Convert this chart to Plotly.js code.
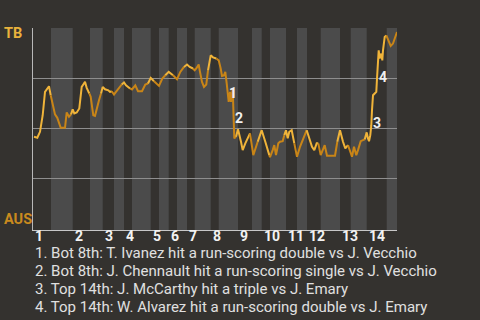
<!DOCTYPE html>
<html>
<head>
<meta charset="utf-8">
<script src="https://cdn.plot.ly/plotly-3.0.1.min.js"></script>
<style>html,body{margin:0;padding:0;background:#34322f;}#chart{width:480px;height:320px;}</style>
</head>
<body>
<div id="chart"></div>
<script>
// Half-inning starts (event progress units): top 1, bottom 1, top 2, ...
const halfStarts = [0, 18, 39.7, 57, 69.7, 81, 91, 99, 117.7, 126, 135.7, 144, 154, 161.7,
  177.7, 185.7, 205, 219, 228.7, 237, 253, 264, 274, 287.7, 307, 317.7, 333.7, 353.7];
const gameEnd = 364;
const inningLabels = ['1','2','3','4','5','6','7','8','9','10','11','12','13','14'];

// Game progress and TB win probability
const eventX = [1, 4.3, 7, 9.7, 12, 14, 16, 17.7, 20.3, 22, 24.3, 26.3, 27.7, 32, 33.7, 36, 38, 39.7,
  41.3, 43.7, 46.3, 47.7, 48.7, 50.3, 52, 53.7, 56.3, 57.7, 59.3, 60.3, 62, 63.7, 66, 68, 69.7,
  72, 75.3, 77, 78.7, 81, 83, 86.3, 88.7, 91, 93, 97, 99, 102.3, 105, 109, 112.3, 115, 117.7,
  121, 126, 129.3, 132.3, 135.7, 140, 144, 147.3, 151, 154, 156.7, 160, 161.7, 163.3, 165.7,
  166.7, 169, 171, 173.3, 175, 177.7, 180, 183.3, 185.7, 187.7, 189, 191, 192.3, 193.7, 194.7,
  195.7, 197, 198, 199.7, 200.3, 201.3, 203, 205, 208, 209.7, 212.3, 217, 219, 220.3, 224.7,
  228.7, 232.3, 236.3, 237, 239.7, 241.3, 243, 245.3, 247, 249.7, 251.3, 253, 254.7, 256.3,
  258.7, 261.3, 264, 267, 270.3, 273.7, 276.3, 279, 281.3, 283.7, 285.3, 287.7, 291.7, 294,
  302, 304.3, 307, 310, 312.3, 315, 317.7, 319, 321, 323.3, 325, 327.7, 331.7, 333.7, 335, 336,
  337.3, 338.3, 339, 340, 341.7, 343.3, 344, 345, 345.7, 346.7, 348.3, 349.3, 350, 351.7, 353.3,
  355.7, 357.7, 360, 362.3, 364];
const winProbTB = [0.457, 0.452, 0.482, 0.565, 0.682, 0.695, 0.71, 0.665, 0.599, 0.569, 0.552, 0.515,
  0.502, 0.502, 0.579, 0.557, 0.569, 0.594, 0.574, 0.579, 0.599, 0.657, 0.707, 0.719, 0.732,
  0.702, 0.674, 0.657, 0.599, 0.565, 0.562, 0.59, 0.64, 0.674, 0.707, 0.695, 0.69, 0.682, 0.685,
  0.669, 0.682, 0.707, 0.719, 0.729, 0.715, 0.699, 0.694, 0.715, 0.685, 0.685, 0.719, 0.724,
  0.752, 0.735, 0.712, 0.749, 0.765, 0.782, 0.765, 0.745, 0.782, 0.807, 0.819, 0.807, 0.799,
  0.79, 0.799, 0.819, 0.79, 0.732, 0.707, 0.719, 0.79, 0.865, 0.855, 0.849, 0.84, 0.799, 0.762,
  0.765, 0.782, 0.724, 0.682, 0.632, 0.682, 0.632, 0.699, 0.599, 0.449, 0.457, 0.495, 0.432,
  0.39, 0.424, 0.474, 0.415, 0.365, 0.432, 0.49, 0.432, 0.365, 0.355, 0.39, 0.415, 0.365, 0.424,
  0.432, 0.435, 0.465, 0.49, 0.449, 0.482, 0.49, 0.424, 0.357, 0.407, 0.449, 0.49, 0.449, 0.407,
  0.39, 0.424, 0.424, 0.365, 0.415, 0.362, 0.362, 0.432, 0.49, 0.432, 0.399, 0.415, 0.374,
  0.357, 0.407, 0.365, 0.39, 0.435, 0.444, 0.479, 0.449, 0.435, 0.465, 0.515, 0.59, 0.665,
  0.674, 0.682, 0.749, 0.815, 0.89, 0.849, 0.874, 0.84, 0.89, 0.957, 0.965, 0.94, 0.912, 0.924,
  0.957, 0.982];

// Key events
const noteLabels = ['1', '2', '3', '4'];
const noteX = [199.7, 206.3, 344, 350];
const noteY = [0.674, 0.552, 0.524, 0.757];
const noteTexts = [
  '1. Bot 8th: T. Ivanez hit a run-scoring double vs J. Vecchio',
  '2. Bot 8th: J. Chennault hit a run-scoring single vs J. Vecchio',
  '3. Top 14th: J. McCarthy hit a triple vs J. Emary',
  '4. Top 14th: W. Alvarez hit a run-scoring double vs J. Emary'
];
const teamTop = 'TB', teamBottom = 'AUS';

const colTB = '#f0b43a', colAUS = '#c98517';
const bg = '#34322f', band = '#4b4b4b';
const font = 'Roboto, "Noto Sans", sans-serif';

const traces = [];
const shapes = [];
for (let h = 0; h < halfStarts.length; h++) {
  const s = halfStarts[h];
  const e = h + 1 < halfStarts.length ? halfStarts[h + 1] : gameEnd + 1;
  const xs = [], ys = [];
  let prev = -1;
  for (let i = 0; i < eventX.length; i++) {
    if (eventX[i] < s) prev = i;
    else if (eventX[i] < e) { xs.push(eventX[i]); ys.push(winProbTB[i]); }
  }
  if (prev >= 0) { xs.unshift(eventX[prev]); ys.unshift(winProbTB[prev]); }
  traces.push({
    x: xs, y: ys, type: 'scatter', mode: 'lines', hoverinfo: 'skip', showlegend: false,
    line: {color: h % 2 === 0 ? colTB : colAUS, width: 2}
  });
  if (h % 2 === 1) {
    shapes.push({type: 'rect', xref: 'x', yref: 'paper', x0: s, x1: Math.min(e, gameEnd), y0: 0, y1: 1,
      fillcolor: band, line: {width: 0}, layer: 'below'});
  }
}

const annotations = [];
inningLabels.forEach((t, i) => {
  annotations.push({text: '<b>' + t + '</b>', x: halfStarts[2 * i], y: 0, xref: 'x', yref: 'paper',
    xanchor: 'left', yanchor: 'top', yshift: 4, showarrow: false,
    font: {family: font, size: 14, color: '#f2f2f2'}});
});
noteLabels.forEach((t, i) => {
  annotations.push({text: '<b>' + t + '</b>', x: noteX[i], y: noteY[i], xref: 'x', yref: 'y',
    xanchor: 'center', yanchor: 'middle', showarrow: false,
    font: {family: font, size: 14, color: '#f0f0f0'}});
});
noteTexts.forEach((t, i) => {
  annotations.push({text: t, x: 0, y: -0.112 - i * 0.0905, xref: 'paper', yref: 'paper',
    xanchor: 'left', yanchor: 'middle', showarrow: false,
    font: {family: font, size: 15, color: '#e0e0e0'}});
});
annotations.push({text: '<b>' + teamTop + '</b>', x: 0, xshift: -31, y: 0.975, xref: 'paper', yref: 'paper',
  xanchor: 'left', yanchor: 'middle', showarrow: false, font: {family: font, size: 14.5, color: '#e9b23c'}});
annotations.push({text: '<b>' + teamBottom + '</b>', x: 0, xshift: -31, y: 0.051, xref: 'paper', yref: 'paper',
  xanchor: 'left', yanchor: 'middle', showarrow: false, font: {family: font, size: 14.5, color: '#c98a1e'}});

const layout = {
  width: 480, height: 320,
  margin: {l: 33, r: 83, t: 28, b: 90, pad: 0},
  paper_bgcolor: bg, plot_bgcolor: bg,
  xaxis: {range: [0, gameEnd], showgrid: false, zeroline: false, showticklabels: false,
    showline: true, linecolor: '#c8c8c8', linewidth: 1, ticks: '', fixedrange: true},
  yaxis: {range: [-0.01, 1.002], tickvals: [0.25, 0.5, 0.75, 1], showticklabels: false,
    showgrid: true, gridcolor: '#8e8e8e', gridwidth: 1, zeroline: false,
    showline: true, linecolor: '#b8b8b8', linewidth: 1, ticks: '', fixedrange: true},
  shapes: shapes,
  annotations: annotations,
  font: {family: font}
};

Plotly.newPlot('chart', traces, layout, {displayModeBar: false, staticPlot: true});
</script>
</body>
</html>
